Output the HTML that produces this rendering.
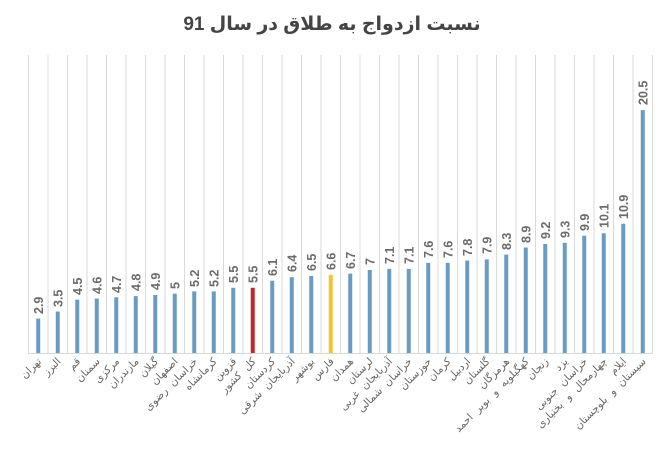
<!DOCTYPE html>
<html><head><meta charset="utf-8"><style>
html,body{margin:0;padding:0;background:#fff;}
svg{display:block;font-family:"Liberation Sans","DejaVu Sans",sans-serif;}
.v{font-size:12.5px;font-weight:bold;fill:#6b6b6b;}
.c{font-size:10.5px;fill:#666;text-anchor:end;letter-spacing:1px;word-spacing:4px;}
</style></head><body>
<svg width="656" height="455" viewBox="0 0 656 455">
<text x="332" y="30" text-anchor="middle" font-size="19" font-weight="bold" fill="#444">نسبت ازدواج به طلاق در سال 91</text>
<g stroke="#d9d9d9" stroke-width="1">
<path d="M28.5 55V353M48 55V353M67.5 55V353M87 55V353M106.5 55V353M126 55V353M145.5 55V353M165 55V353M184.5 55V353M204 55V353M223.5 55V353M243 55V353M262.5 55V353M282 55V353M301.5 55V353M321 55V353M340.5 55V353M360 55V353M379.5 55V353M399 55V353M418.5 55V353M438 55V353M457.5 55V353M477 55V353M496.5 55V353M516 55V353M535.5 55V353M555 55V353M574.5 55V353M594 55V353M613.5 55V353M633 55V353M652.5 55V353"/>
<path d="M28 353.5H653"/>
</g>
<g fill="#6a9bc3">
<rect x="36.25" y="318.6" width="4" height="34.4"/>
<rect x="55.75" y="311.5" width="4" height="41.5"/>
<rect x="75.25" y="299.7" width="4" height="53.3"/>
<rect x="94.75" y="298.5" width="4" height="54.5"/>
<rect x="114.25" y="297.3" width="4" height="55.7"/>
<rect x="133.75" y="296.1" width="4" height="56.9"/>
<rect x="153.25" y="294.9" width="4" height="58.1"/>
<rect x="172.75" y="293.7" width="4" height="59.3"/>
<rect x="192.25" y="291.4" width="4" height="61.6"/>
<rect x="211.75" y="291.4" width="4" height="61.6"/>
<rect x="231.25" y="287.8" width="4" height="65.2"/>
<rect x="250.75" y="287.8" width="4" height="65.2" fill="#c0282d"/>
<rect x="270.25" y="280.7" width="4" height="72.3"/>
<rect x="289.75" y="277.2" width="4" height="75.8"/>
<rect x="309.25" y="276" width="4" height="77"/>
<rect x="328.75" y="274.8" width="4" height="78.2" fill="#f5c330"/>
<rect x="348.25" y="273.6" width="4" height="79.4"/>
<rect x="367.75" y="270" width="4" height="83"/>
<rect x="387.25" y="268.9" width="4" height="84.1"/>
<rect x="406.75" y="268.9" width="4" height="84.1"/>
<rect x="426.25" y="262.9" width="4" height="90.1"/>
<rect x="445.75" y="262.9" width="4" height="90.1"/>
<rect x="465.25" y="260.6" width="4" height="92.4"/>
<rect x="484.75" y="259.4" width="4" height="93.6"/>
<rect x="504.25" y="254.6" width="4" height="98.4"/>
<rect x="523.75" y="247.5" width="4" height="105.5"/>
<rect x="543.25" y="244" width="4" height="109"/>
<rect x="562.75" y="242.8" width="4" height="110.2"/>
<rect x="582.25" y="235.7" width="4" height="117.3"/>
<rect x="601.75" y="233.3" width="4" height="119.7"/>
<rect x="621.25" y="223.8" width="4" height="129.2"/>
<rect x="640.75" y="110.1" width="4" height="242.9"/>
</g>
<g class="v">
<text transform="translate(42.75,314) rotate(-90)">2.9</text>
<text transform="translate(62.25,307) rotate(-90)">3.5</text>
<text transform="translate(81.75,295) rotate(-90)">4.5</text>
<text transform="translate(101.25,294) rotate(-90)">4.6</text>
<text transform="translate(120.75,293) rotate(-90)">4.7</text>
<text transform="translate(140.25,291) rotate(-90)">4.8</text>
<text transform="translate(159.75,290) rotate(-90)">4.9</text>
<text transform="translate(179.25,289) rotate(-90)">5</text>
<text transform="translate(198.75,287) rotate(-90)">5.2</text>
<text transform="translate(218.25,287) rotate(-90)">5.2</text>
<text transform="translate(237.75,283) rotate(-90)">5.5</text>
<text transform="translate(257.25,283) rotate(-90)">5.5</text>
<text transform="translate(276.75,276) rotate(-90)">6.1</text>
<text transform="translate(296.25,272) rotate(-90)">6.4</text>
<text transform="translate(315.75,271) rotate(-90)">6.5</text>
<text transform="translate(335.25,270) rotate(-90)">6.6</text>
<text transform="translate(354.75,269) rotate(-90)">6.7</text>
<text transform="translate(374.25,265) rotate(-90)">7</text>
<text transform="translate(393.75,264) rotate(-90)">7.1</text>
<text transform="translate(413.25,264) rotate(-90)">7.1</text>
<text transform="translate(432.75,258) rotate(-90)">7.6</text>
<text transform="translate(452.25,258) rotate(-90)">7.6</text>
<text transform="translate(471.75,256) rotate(-90)">7.8</text>
<text transform="translate(491.25,254) rotate(-90)">7.9</text>
<text transform="translate(510.75,250) rotate(-90)">8.3</text>
<text transform="translate(530.25,243) rotate(-90)">8.9</text>
<text transform="translate(549.75,239) rotate(-90)">9.2</text>
<text transform="translate(569.25,238) rotate(-90)">9.3</text>
<text transform="translate(588.75,231) rotate(-90)">9.9</text>
<text transform="translate(608.25,228) rotate(-90)">10.1</text>
<text transform="translate(627.75,219) rotate(-90)">10.9</text>
<text transform="translate(647.25,105) rotate(-90)">20.5</text>
</g>
<g class="c">
<text transform="translate(42,362) rotate(-45)">تهران</text>
<text transform="translate(61.5,362) rotate(-45)">البرز</text>
<text transform="translate(81,362) rotate(-45)">قم</text>
<text transform="translate(100.5,362) rotate(-45)">سمنان</text>
<text transform="translate(120,362) rotate(-45)">مرکزی</text>
<text transform="translate(139.5,362) rotate(-45)">مازندران</text>
<text transform="translate(159,362) rotate(-45)">گیلان</text>
<text transform="translate(178.5,362) rotate(-45)">اصفهان</text>
<text transform="translate(198,362) rotate(-45)">خراسان رضوی</text>
<text transform="translate(217.5,362) rotate(-45)">کرمانشاه</text>
<text transform="translate(237,362) rotate(-45)">قزوین</text>
<text transform="translate(256.5,362) rotate(-45)">کل کشور</text>
<text transform="translate(276,362) rotate(-45)">کردستان</text>
<text transform="translate(295.5,362) rotate(-45)">آذربایجان شرقی</text>
<text transform="translate(315,362) rotate(-45)">بوشهر</text>
<text transform="translate(334.5,362) rotate(-45)">فارس</text>
<text transform="translate(354,362) rotate(-45)">همدان</text>
<text transform="translate(373.5,362) rotate(-45)">لرستان</text>
<text transform="translate(393,362) rotate(-45)">آذربایجان غربی</text>
<text transform="translate(412.5,362) rotate(-45)">خراسان شمالی</text>
<text transform="translate(432,362) rotate(-45)">خوزستان</text>
<text transform="translate(451.5,362) rotate(-45)">کرمان</text>
<text transform="translate(471,362) rotate(-45)">اردبیل</text>
<text transform="translate(490.5,362) rotate(-45)">گلستان</text>
<text transform="translate(510,362) rotate(-45)">هرمزگان</text>
<text transform="translate(529.5,362) rotate(-45)">کهگیلویه و بویر احمد</text>
<text transform="translate(549,362) rotate(-45)">زنجان</text>
<text transform="translate(568.5,362) rotate(-45)">یزد</text>
<text transform="translate(588,362) rotate(-45)">خراسان جنوبی</text>
<text transform="translate(607.5,362) rotate(-45)">چهارمحال و بختیاری</text>
<text transform="translate(627,362) rotate(-45)">ایلام</text>
<text transform="translate(646.5,362) rotate(-45)">سیستان و بلوچستان</text>
</g>
</svg>
</body></html>
